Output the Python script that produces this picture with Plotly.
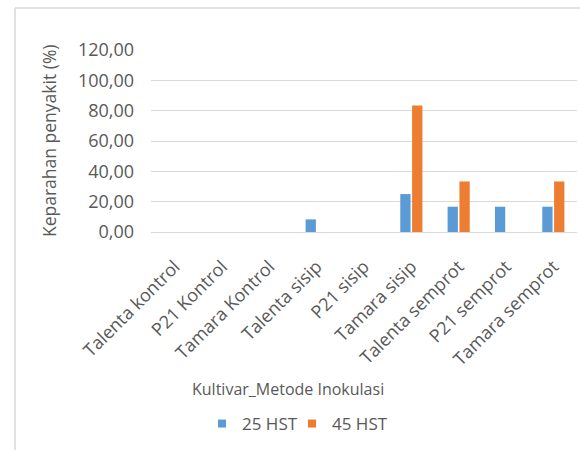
import plotly.graph_objects as go

categories = ["Talenta kontrol", "P21 Kontrol", "Tamara Kontrol", "Talenta sisip",
              "P21 sisip", "Tamara sisip", "Talenta semprot", "P21 semprot", "Tamara semprot"]
hst25 = [0, 0, 0, 8.33, 0, 25.00, 16.67, 16.67, 16.67]
hst45 = [0, 0, 0, 0, 0, 83.33, 33.33, 0, 33.33]
y_ticks = [0, 20, 40, 60, 80, 100, 120]
series_names = ["25 HST", "45 HST"]
series_colors = ["#5b9bd5", "#ed7d31"]

FONT = "Open Sans"
GRAY = "#595959"

fig = go.Figure()
for name, vals, col in zip(series_names, [hst25, hst45], series_colors):
    fig.add_trace(go.Bar(x=categories, y=vals, name=name, marker_color=col,
                         marker_line_width=0, showlegend=False))
# small square legend keys, one legend box per series
for name, col, lg in zip(series_names, series_colors, ["legend", "legend2"]):
    fig.add_trace(go.Scatter(x=[None], y=[None], mode="markers", name=name, legend=lg,
                             marker=dict(symbol="square", size=8, color=col)))

L, R, T, B = 151, 3, 50, 218
W, H = 580, 450
pw = W - L - R
ph = H - T - B

def px_x(p):
    return (p - L) / pw

def px_y(p):
    return (H - B - p) / ph

legend_style = dict(orientation="h", yanchor="middle", xanchor="left", itemwidth=30,
                    font=dict(size=17, color=GRAY), bgcolor="rgba(0,0,0,0)")

fig.update_layout(
    width=W, height=H,
    margin=dict(l=L, r=R, t=T, b=B, autoexpand=False),
    paper_bgcolor="white", plot_bgcolor="white",
    separators=",.",
    barmode="group", bargap=0.5, bargroupgap=0.13,
    font=dict(family=FONT, color=GRAY, size=14),
    showlegend=True,
    legend=dict(x=px_x(202), y=px_y(424), **legend_style),
    legend2=dict(x=px_x(292), y=px_y(424), **legend_style),
    xaxis=dict(tickangle=-45, showgrid=False, showline=True, linecolor="#d9d9d9",
               linewidth=1, ticks="outside", ticklen=16, tickcolor="rgba(0,0,0,0)",
               tickfont=dict(size=18, color=GRAY)),
    yaxis=dict(range=[0, 120], tickvals=y_ticks, tickformat=".2f", showgrid=True,
               gridcolor="#d9d9d9", gridwidth=1, zeroline=False, showline=False,
               ticks="", ticklabelstandoff=16, tickfont=dict(size=18, color=GRAY)),
    annotations=[
        dict(text="Keparahan penyakit (%)", xref="paper", yref="paper",
             x=px_x(49), y=px_y(141), textangle=-90, showarrow=False,
             xanchor="center", yanchor="middle", font=dict(size=17.5, color=GRAY)),
        dict(text="Kultivar_Metode Inokulasi", xref="paper", yref="paper",
             x=px_x(288), y=px_y(389), showarrow=False,
             xanchor="center", yanchor="middle", font=dict(size=16, color=GRAY)),
    ],
    shapes=[
        dict(type="line", xref="paper", yref="paper", x0=px_x(15), x1=px_x(15),
             y0=px_y(8), y1=px_y(452), line=dict(color="#d9d9d9", width=1.5)),
        dict(type="line", xref="paper", yref="paper", x0=px_x(15), x1=px_x(582),
             y0=px_y(8), y1=px_y(8), line=dict(color="#d9d9d9", width=1.5)),
    ],
)

fig.write_html("out.html")
